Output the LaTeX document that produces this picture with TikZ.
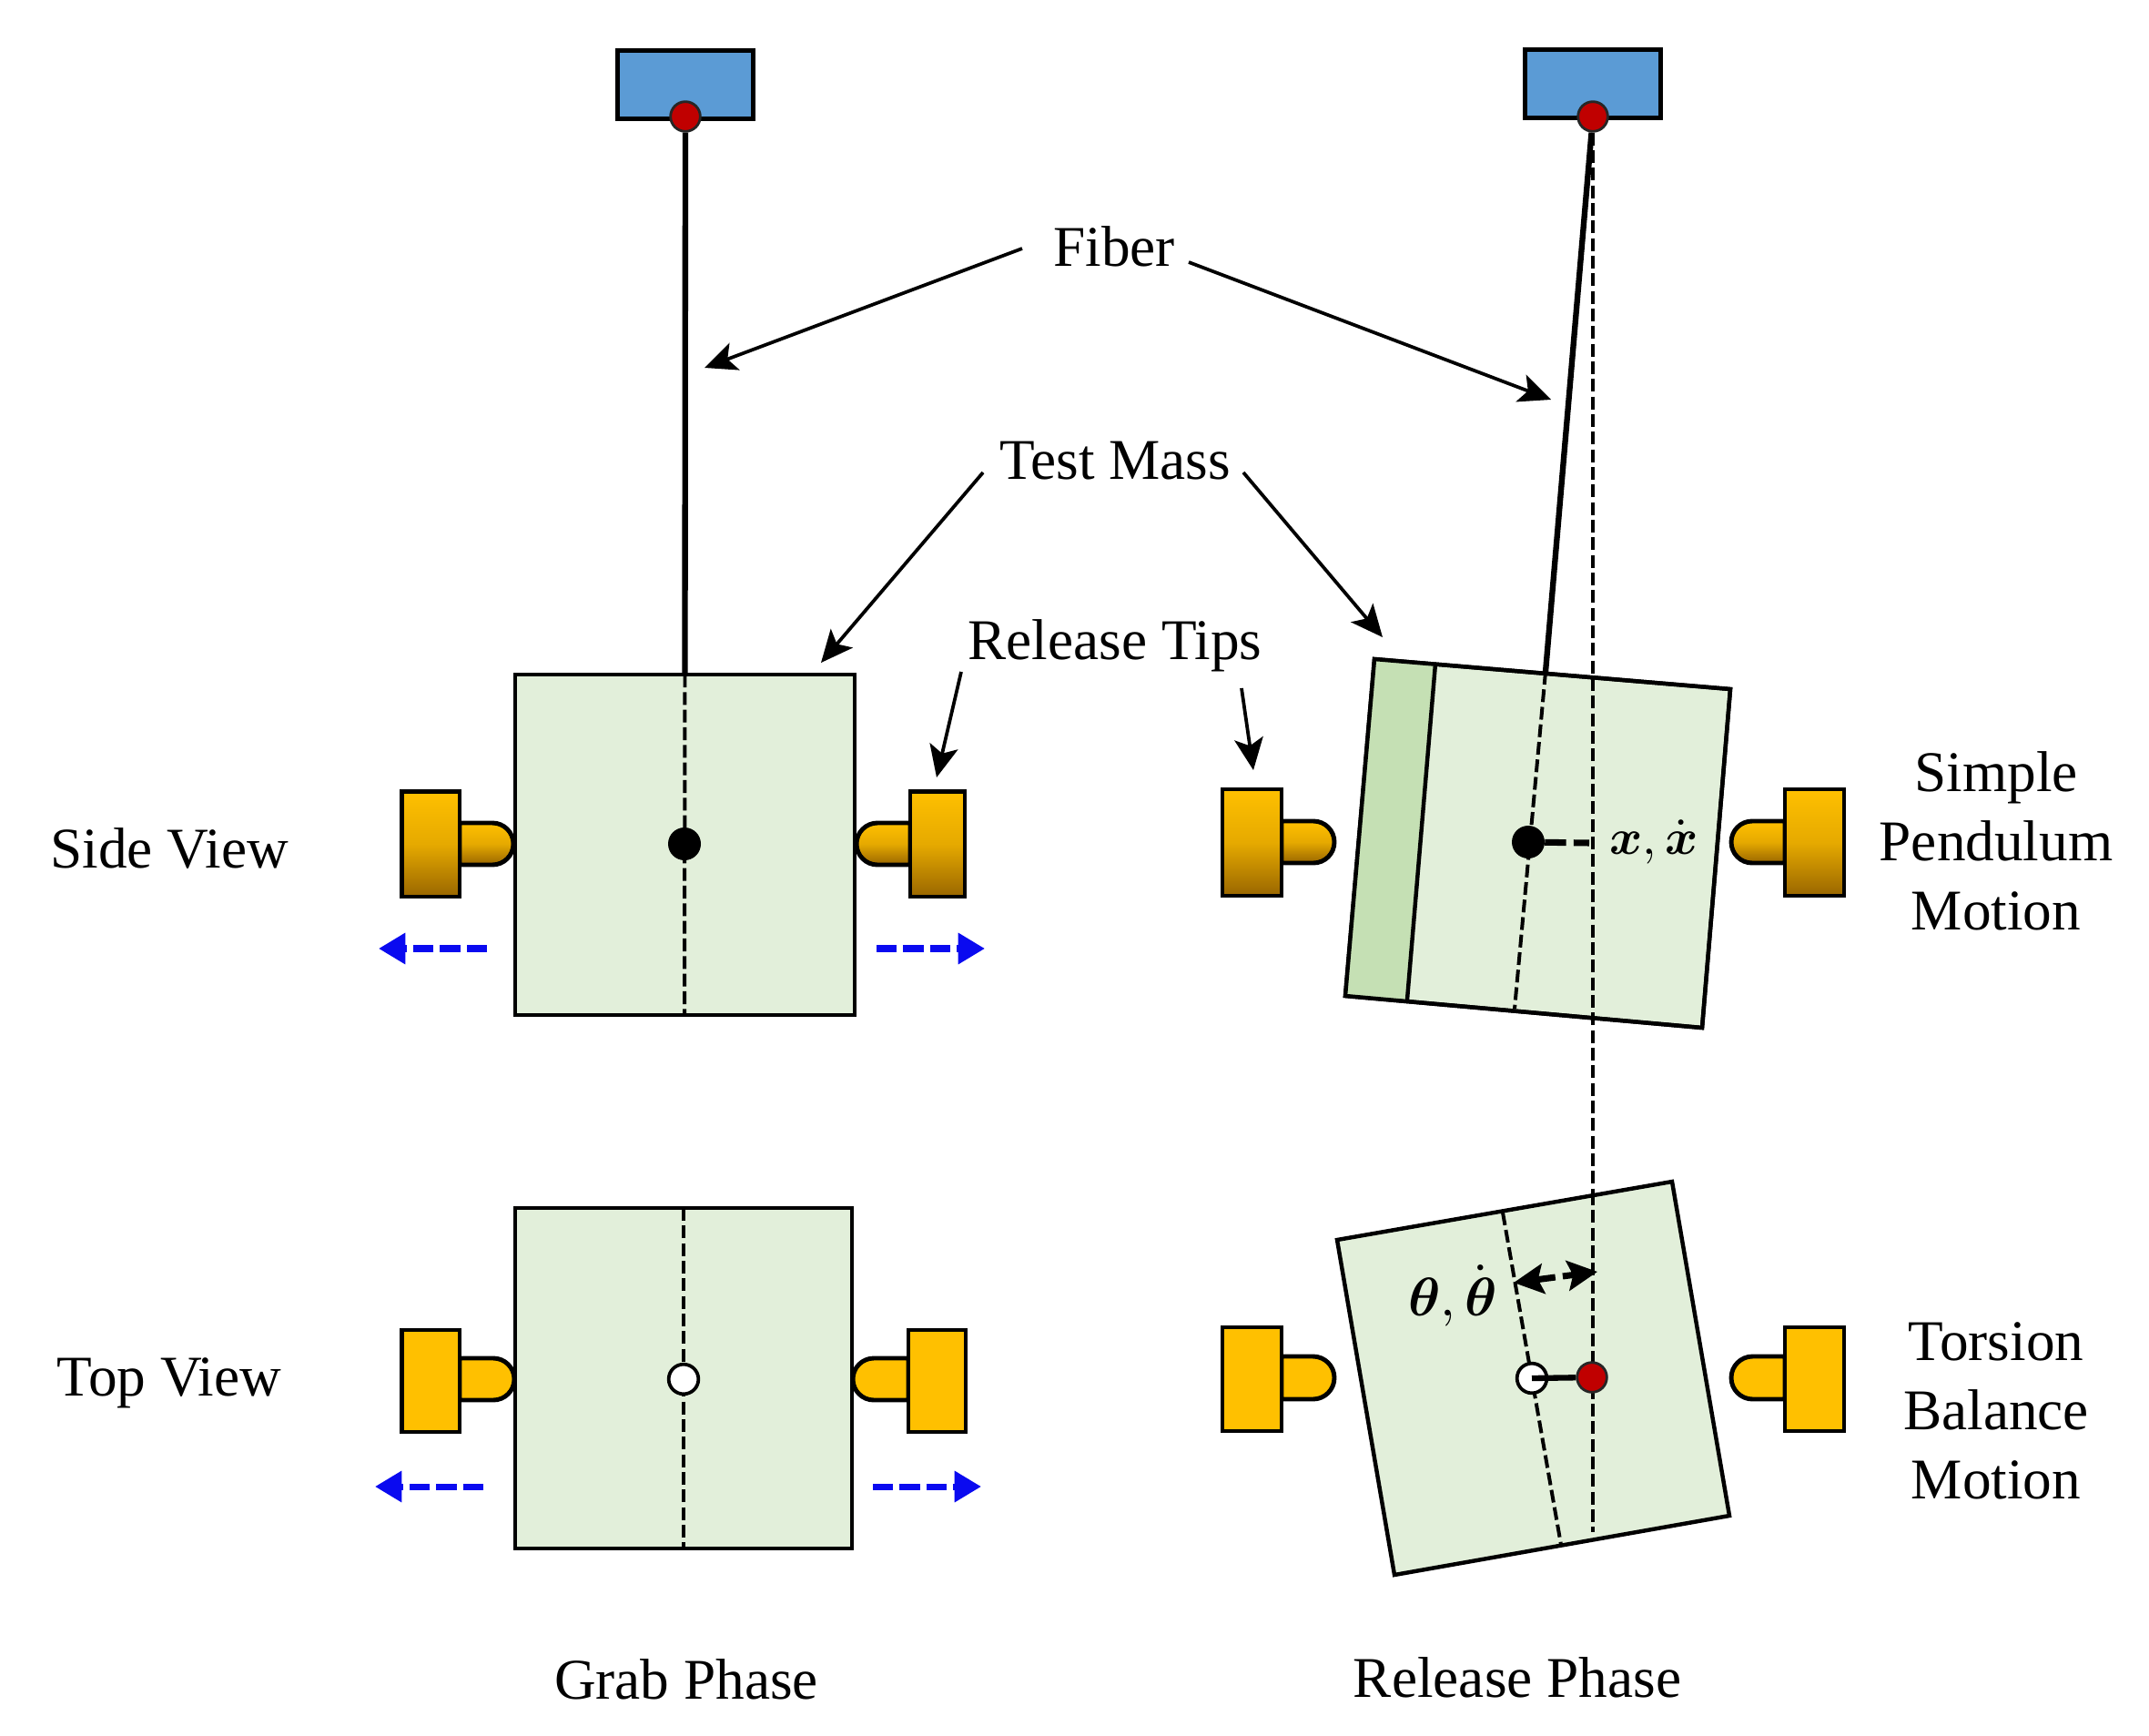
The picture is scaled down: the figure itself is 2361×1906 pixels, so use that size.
\documentclass[tikz,border=0pt]{standalone}
\usepackage{amsmath}
\usepackage{graphicx}
\usepackage{fontspec}
\setmainfont{Liberation Serif}
\usetikzlibrary{arrows.meta}
\definecolor{massgreen}{HTML}{E2EFDA}
\definecolor{stripgreen}{HTML}{C5E0B4}
\definecolor{topblue}{HTML}{5B9BD5}
\definecolor{pinred}{HTML}{C00000}
\definecolor{gold}{HTML}{FFC000}
\definecolor{golddark}{HTML}{996600}
\definecolor{pushblue}{HTML}{0A0AF0}
\tikzset{
  label text/.style={font=\fontsize{54}{65}\selectfont, align=center, inner sep=0pt, text=black},
  math text/.style={inner sep=0pt},
  outline/.style={draw=black, line width=4.2pt, line join=miter},
  massbox/.style={outline, fill=massgreen, rectangle, inner sep=0pt, outer sep=0pt},
  topbox/.style={outline, fill=topblue, rectangle, inner sep=0pt, outer sep=0pt, minimum width=4.45cm, minimum height=2.25cm},
  fiber/.style={line width=5.4pt},
  centerline/.style={line width=3.4pt, dash pattern=on 12pt off 4.5pt},
  dotblack/.style={circle, fill=black, inner sep=0pt, minimum size=1.08cm},
  dotred/.style={circle, fill=pinred, draw=black!85, line width=2.4pt, inner sep=0pt, minimum size=0.98cm},
  dotwhite/.style={circle, fill=white, draw=black, line width=3.2pt, inner sep=0pt, minimum size=0.98cm},
  callout/.style={line width=3.2pt, -{Stealth[length=30pt, width=27pt, inset=7pt]}},
  push/.style={pushblue, line width=6pt, dash pattern=on 19pt off 6pt, -{Triangle[length=25pt, width=28pt, sep=0pt]}},
  twist/.style={line width=6pt, dash pattern=on 18pt off 7pt, {Stealth[length=28pt, width=28pt, inset=5pt]}-{Stealth[length=28pt, width=28pt, inset=5pt]}},
  tipg/.style={outline, top color=gold, bottom color=golddark, middle color=gold!75!golddark},
  tipf/.style={outline, fill=gold},
}
% #1 style, #2 rect left x, #3 rect right x, #4 top y, #5 bottom y, #6 nub top y, #7 nub bottom y, #8 nub end x
\newcommand{\tipleft}[8]{%
  \draw[#1] (#3,#6) -- ({#8-(#7-#6)/2},#6) arc[start angle=90,end angle=-90,x radius={(#7-#6)/2},y radius={-(#7-#6)/2}] -- (#3,#7) -- cycle;
  \draw[#1] (#2,#4) rectangle (#3,#5);}
\newcommand{\tipright}[8]{%
  \draw[#1] (#2,#6) -- ({#8+(#7-#6)/2},#6) arc[start angle=90,end angle=270,x radius={(#7-#6)/2},y radius={-(#7-#6)/2}] -- (#2,#7) -- cycle;
  \draw[#1] (#2,#4) rectangle (#3,#5);}
\begin{document}
\begin{tikzpicture}[x=0.03cm,y=-0.03cm]
\fill[white] (0,0) rectangle (2361,1906);
\useasboundingbox (0,0) rectangle (2361,1906);

% ---------- texts
\node[label text] (fiberlabel) at (1224,271) {Fiber};
\node[label text] (masslabel) at (1225,506) {Test Mass};
\node[label text] (tipslabel) at (1225,709) {Release Tips};
\node[label text] (sidelabel) at (186,932) {Side View};
\node[label text] (toplabel) at (186,1519) {Top View};
\node[label text] (pendlabel) at (2193,924) {Simple\\Pendulum\\Motion};
\node[label text] (torslabel) at (2193,1550) {Torsion\\Balance\\Motion};
\node[label text] (grablabel) at (754,1845) {Grab Phase};
\node[label text] (rellabel) at (1667,1843) {Release Phase};

% ---------- Grab phase, side view
\node[topbox] (anchorL) at (753,93) {};
\node[massbox, minimum width=11.19cm, minimum height=11.22cm] (massA) at (752.5,928) {};
\node[dotred] (pinL) at (753,128) {};
\draw[fiber] (pinL) -- (massA.north);
\coordinate (massAb) at (752,1115);
\draw[centerline] (massA.north) -- (massAb);
\node[dotblack] (comA) at (752,927) {};
\tipleft{tipg}{441.5}{505}{869.5}{985}{904}{950}{564}
\tipright{tipg}{1000}{1060}{869.5}{985}{904}{950}{941}
\coordinate (pushA1s) at (535,1042); \coordinate (pushA1e) at (416,1042);
\coordinate (pushA2s) at (963,1042); \coordinate (pushA2e) at (1082,1042);
\draw[push] (pushA1s) -- (pushA1e);
\draw[push] (pushA2s) -- (pushA2e);

% ---------- Grab phase, top view
\node[massbox, minimum width=11.1cm, minimum height=11.22cm] (massB) at (751,1514) {};
\draw[centerline] (massB.north) -- (massB.south);
\node[dotwhite] (comB) at (751,1515) {};
\tipleft{tipf}{441.5}{505}{1461}{1573}{1492}{1538}{565}
\tipright{tipf}{998}{1061}{1461}{1573}{1492}{1538}{937}
\coordinate (pushB1s) at (531,1633); \coordinate (pushB1e) at (412,1633);
\coordinate (pushB2s) at (959,1633); \coordinate (pushB2e) at (1078,1633);
\draw[push] (pushB1s) -- (pushB1e);
\draw[push] (pushB2s) -- (pushB2e);

% ---------- Release phase, side view
\node[topbox] (anchorR) at (1750,92) {};
\coordinate (c1) at (1510,724); \coordinate (c2) at (1901,757);
\coordinate (c3) at (1870,1129); \coordinate (c4) at (1478,1094);
\coordinate (s1) at (1577,729); \coordinate (s2) at (1546,1098);
\filldraw[massbox, line width=3.8pt] (c1) -- (c2) -- (c3) -- (c4) -- cycle;
\fill[stripgreen] (c1) -- (s1) -- (s2) -- (c4) -- cycle;
\draw[outline, line width=3.8pt] (c1) -- (c2) -- (c3) -- (c4) -- cycle;
\draw[line width=3.8pt] (s1) -- (s2);
\coordinate (ct) at (1698,738); \coordinate (cb) at (1664,1108);
\coordinate (vfoot) at (1750,1683);
\draw[centerline] (ct) -- (cb);
\node[dotblack] (comC) at (1679,925) {};
\node[dotred] (pinR) at (1750,128) {};
\draw[centerline] (pinR) -- (vfoot);
\draw[fiber] (pinR) -- (ct);
\coordinate (xfoot) at (1746,926);
\draw[line width=6pt, dash pattern=on 20pt off 7pt] (comC) -- (xfoot);
\node[math text, anchor=base west] (xlabel) at (1768,938) {\scalebox{4.7}{$\boldsymbol{x},\dot{\boldsymbol{x}}$}};
\tipleft{tipg}{1343}{1408}{867}{984}{902}{948}{1466}
\tipright{tipg}{1961}{2026}{867}{984}{902}{948}{1902}

% ---------- Release phase, top view
\coordinate (d1) at (1469,1362); \coordinate (d2) at (1837,1298);
\coordinate (d3) at (1900,1665); \coordinate (d4) at (1532,1730);
\filldraw[massbox, line width=3.8pt] (d1) -- (d2) -- (d3) -- (d4) -- cycle;
\coordinate (et) at (1651,1332); \coordinate (eb) at (1715,1697);
\draw[centerline] (et) -- (eb);
\coordinate (vtop) at (1750,1310);
\draw[centerline] (vtop) -- (vfoot);
\node[dotwhite] (comD) at (1683,1514) {};
\node[dotred] (pinD) at (1749,1513) {};
\draw[fiber] (comD.center) -- (pinD);
\coordinate (twistL) at (1663,1409); \coordinate (twistR) at (1755,1397);
\draw[twist] (twistL) -- (twistR);
\node[math text, anchor=base west] (thlabel) at (1547,1445) {\scalebox{5.1}{$\boldsymbol{\theta},\dot{\boldsymbol{\theta}}$}};
\tipleft{tipf}{1343}{1408}{1458}{1572}{1490}{1537}{1466}
\tipright{tipf}{1961}{2026}{1458}{1572}{1490}{1537}{1902}

% ---------- callouts
\coordinate (a1) at (1123,273); \coordinate (a1e) at (774,404);
\coordinate (a2) at (1306,288); \coordinate (a2e) at (1704,439);
\coordinate (a3) at (1080,519); \coordinate (a3e) at (902,728);
\coordinate (a4) at (1366,519); \coordinate (a4e) at (1519,700);
\coordinate (a5) at (1056,738); \coordinate (a5e) at (1029,854);
\coordinate (a6) at (1364,756); \coordinate (a6e) at (1377,846);
\draw[callout] (a1) -- (a1e);
\draw[callout] (a2) -- (a2e);
\draw[callout] (a3) -- (a3e);
\draw[callout] (a4) -- (a4e);
\draw[callout] (a5) -- (a5e);
\draw[callout] (a6) -- (a6e);
\end{tikzpicture}
\end{document}
